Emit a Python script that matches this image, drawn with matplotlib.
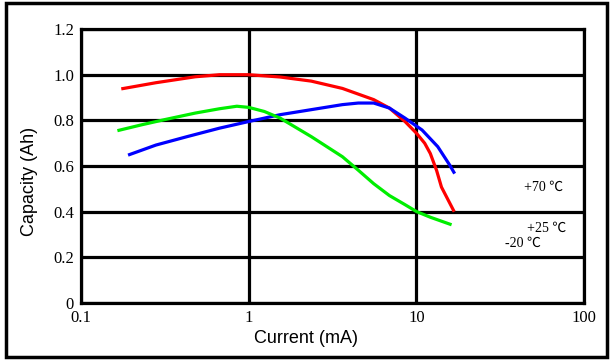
import numpy as np
import matplotlib.pyplot as plt
from matplotlib.patches import Rectangle
from matplotlib.ticker import FixedLocator, NullLocator

# values
red_x = [0.174, 0.28, 0.48, 0.67, 1.0, 1.54, 2.36, 3.62, 5.56, 6.9, 8.55, 10.0, 11.2, 12.1, 13.2, 14.1, 16.8]
red_y = [0.938, 0.965, 0.991, 1.0, 1.0, 0.99, 0.972, 0.94, 0.891, 0.854, 0.795, 0.744, 0.700, 0.655, 0.58, 0.508, 0.40]

blue_x = [0.191, 0.28, 0.43, 0.67, 1.0, 1.54, 2.36, 3.62, 4.5, 5.56, 6.9, 8.55, 10.8, 13.4, 15.8, 16.9]
blue_y = [0.648, 0.692, 0.729, 0.766, 0.795, 0.825, 0.847, 0.869, 0.876, 0.876, 0.854, 0.81, 0.758, 0.685, 0.604, 0.567]

green_x = [0.165, 0.228, 0.314, 0.48, 0.67, 0.85, 1.0, 1.24, 1.54, 2.36, 3.62, 4.5, 5.56, 6.9, 8.55, 10.0, 12.1, 16.2]
green_y = [0.755, 0.78, 0.803, 0.832, 0.851, 0.862, 0.857, 0.839, 0.81, 0.729, 0.641, 0.582, 0.523, 0.471, 0.431, 0.401, 0.376, 0.343]

x_ticks = [0.1, 1, 10, 100]
x_tick_labels = ["0.1", "1", "10", "100"]
y_ticks = [0, 0.2, 0.4, 0.6, 0.8, 1.0, 1.2]
y_tick_labels = ["0", "0.2", "0.4", "0.6", "0.8", "1.0", "1.2"]

temp_labels = ["+70 \u2103", "+25 \u2103", "-20 \u2103"]
temp_pos = [(44.0, 0.508), (45.5, 0.329), (33.5, 0.263)]

fig = plt.figure(figsize=(6.13, 3.63), dpi=100)
ax = fig.add_axes([0.132, 0.165, 0.821, 0.755])

ax.plot(red_x, red_y, color="#ff0000", linewidth=2.3, solid_capstyle="butt",
        solid_joinstyle="round", zorder=3)
ax.plot(blue_x, blue_y, color="#0000ff", linewidth=2.3, solid_capstyle="butt",
        solid_joinstyle="round", zorder=3)
ax.plot(green_x, green_y, color="#00ee00", linewidth=2.3, solid_capstyle="butt",
        solid_joinstyle="round", zorder=3)

ax.set_xscale("log")
ax.set_xlim(0.1, 100)
ax.set_ylim(0, 1.2)
ax.xaxis.set_major_locator(FixedLocator(x_ticks))
ax.xaxis.set_minor_locator(NullLocator())
ax.set_xticklabels(x_tick_labels)
ax.set_yticks(y_ticks)
ax.set_yticklabels(y_tick_labels)

serif = ["Liberation Serif", "DejaVu Serif"]
for lab in ax.get_xticklabels() + ax.get_yticklabels():
    lab.set_family(serif)
    lab.set_fontsize(12)
ax.tick_params(length=0, pad=5)

ax.grid(True, color="black", linewidth=2.3, zorder=1)
ax.set_axisbelow(True)
for sp in ax.spines.values():
    sp.set_linewidth(2.3)
    sp.set_color("black")

ax.set_xlabel("Current (mA)", family="Liberation Sans", fontsize=13)
ax.set_ylabel("Capacity (Ah)", family="Liberation Sans", fontsize=13)
ax.xaxis.set_label_coords(0.447, -0.128)
ax.yaxis.set_label_coords(-0.103, 0.445)
ax.xaxis.label.set_va("center")
ax.yaxis.label.set_va("center")

for txt, (tx, ty) in zip(temp_labels, temp_pos):
    ax.text(tx, ty, txt, family=["Liberation Serif", "Noto Sans CJK SC"],
            fontsize=10, va="center", ha="left")

fig.patches.append(Rectangle((0.009, 0.017), 0.982, 0.975, transform=fig.transFigure,
                             fill=False, edgecolor="black", linewidth=2.5))

fig.savefig("out.png", dpi=100)
